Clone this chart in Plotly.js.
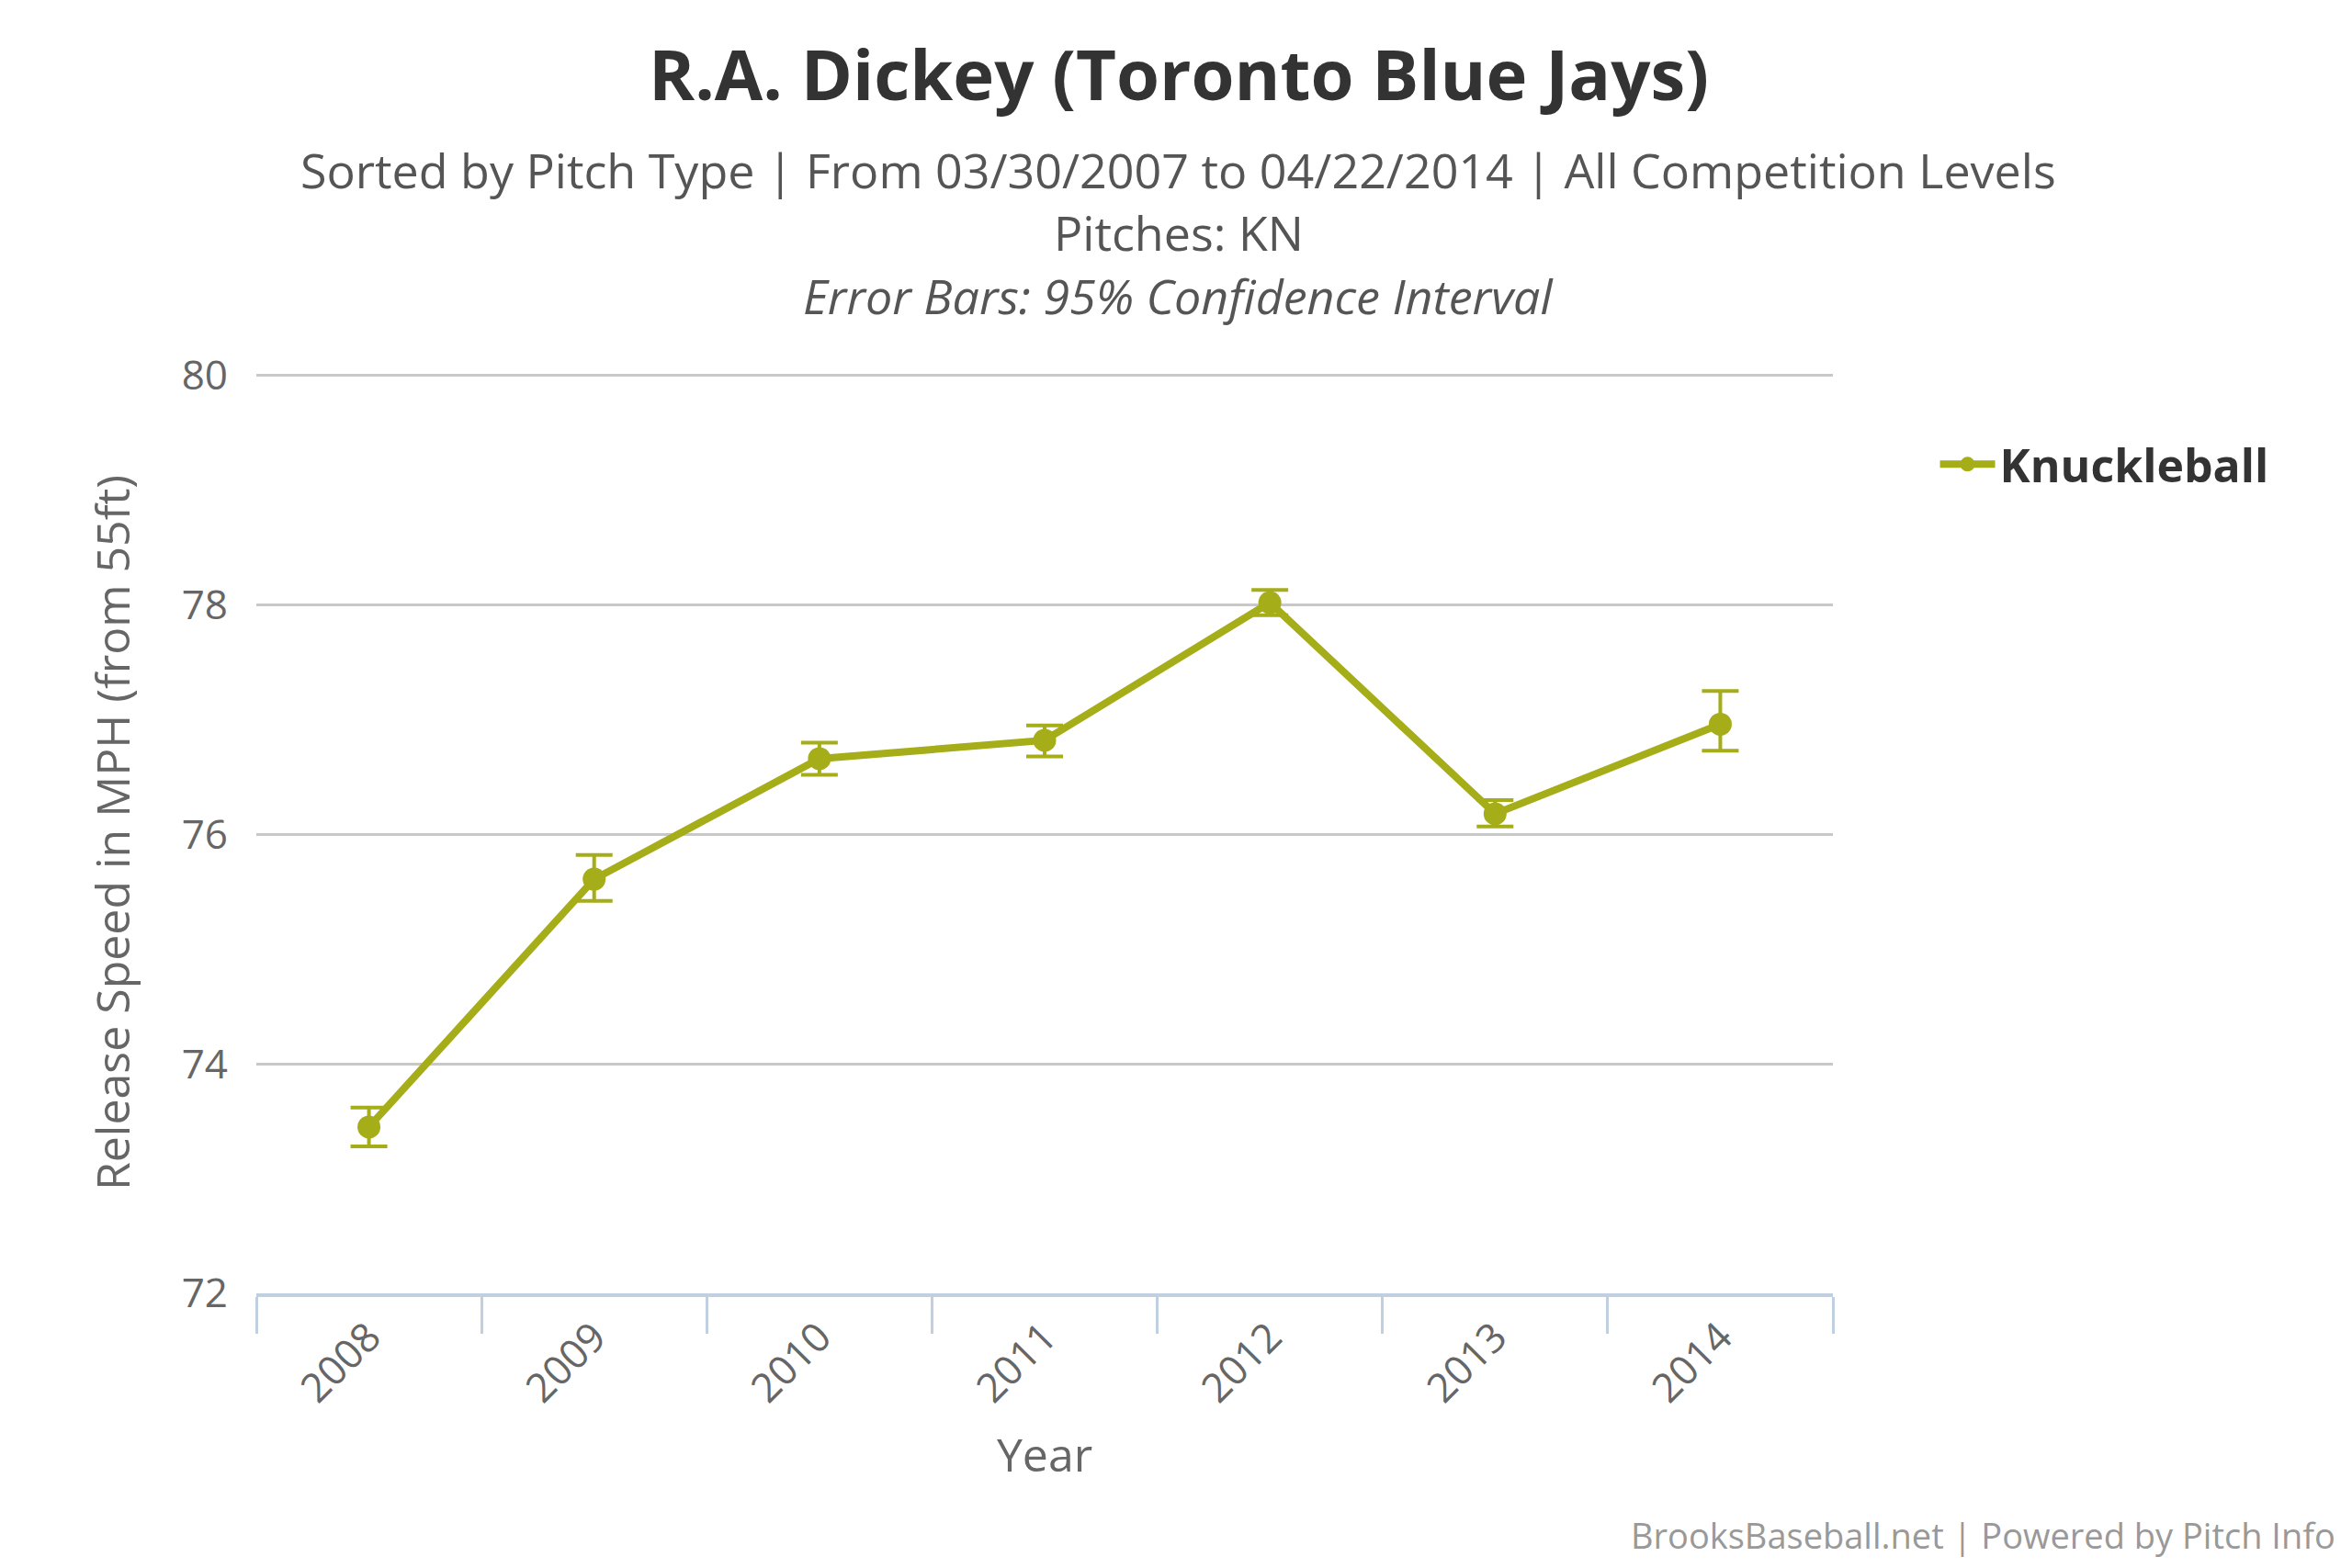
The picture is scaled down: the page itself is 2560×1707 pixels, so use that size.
<!DOCTYPE html>
<html>
<head>
<meta charset="utf-8">
<script src="https://cdn.plot.ly/plotly-3.0.1.min.js"></script>
<style>body{margin:0;background:#fff}</style>
</head>
<body>
<div id="chart" style="width:2560px;height:1707px"></div>
<script>
var years = ['2008', '2009', '2010', '2011', '2012', '2013', '2014']
var speed = [73.45, 75.61, 76.66, 76.82, 78.02, 76.18, 76.96]
var errHigh = [0.17, 0.21, 0.14, 0.13, 0.11, 0.12, 0.29]
var errLow = [0.17, 0.19, 0.14, 0.14, 0.11, 0.11, 0.23]

var titleLines = [
    {text: '<b>R.A. Dickey (Toronto Blue Jays)</b>', y: 1.325, size: 76, color: '#333'},
    {text: 'Sorted by Pitch Type | From 03/30/2007 to 04/22/2014 | All Competition Levels', y: 1.220, size: 52, color: '#555'},
    {text: 'Pitches: KN', y: 1.152, size: 52, color: '#555'},
    {text: '<i>Error Bars: 95% Confidence Interval</i>', y: 1.083, size: 52, color: '#555'}
]

var color = '#a5ad18'
var font = '"Open Sans", "DejaVu Sans", sans-serif'

var trace = {
    x: years,
    y: speed,
    name: 'Knuckleball',
    type: 'scatter',
    mode: 'lines+markers',
    line: {color: color, width: 8},
    marker: {color: color, size: 25},
    error_y: {
        type: 'data',
        symmetric: false,
        array: errHigh,
        arrayminus: errLow,
        color: color,
        thickness: 4,
        width: 20
    }
}

var annotations = titleLines.map(function(t) {
    return {
        text: t.text, xref: 'paper', yref: 'paper',
        x: 0.585, y: t.y, xanchor: 'center', yanchor: 'middle',
        showarrow: false, font: {size: t.size, color: t.color, family: font}
    }
})
annotations.push({
    text: 'BrooksBaseball.net | Powered by Pitch Info',
    xref: 'paper', yref: 'paper',
    x: 1.32, y: -0.29, xanchor: 'right', yanchor: 'bottom',
    showarrow: false,
    font: {size: 38, color: '#999'}
})

var layout = {
    width: 2560,
    height: 1707,
    margin: {l: 279, r: 565, t: 405, b: 299},
    paper_bgcolor: '#fff',
    plot_bgcolor: '#fff',
    font: {family: font, color: '#555'},
    xaxis: {
        type: 'category',
        range: [-0.5, 6.5],
        tickson: 'boundaries',
        ticks: 'outside',
        ticklen: 40,
        tickwidth: 3,
        tickcolor: '#c0d0e0',
        showline: true,
        linecolor: '#c0d0e0',
        linewidth: 4,
        showgrid: false,
        tickangle: -45,
        tickfont: {size: 44, color: '#666'},
        title: {text: 'Year', font: {size: 50, color: '#666'}, standoff: 30}
    },
    yaxis: {
        range: [72, 80.03],
        dtick: 2,
        gridcolor: '#c8c8c8',
        gridwidth: 3,
        zeroline: false,
        ticks: '',
        tickfont: {size: 44, color: '#666'},
        ticklabelstandoff: 30,
        title: {text: 'Release Speed in MPH (from 55ft)', font: {size: 50, color: '#666'}, standoff: 40}
    },
    showlegend: true,
    legend: {
        x: 1.065, xanchor: 'left', y: 0.9, yanchor: 'middle',
        font: {size: 50, color: '#333', family: font, weight: 'bold'},
        itemwidth: 60
    },
    annotations: annotations
}

Plotly.newPlot('chart', [trace], layout, {displayModeBar: false})
</script>
</body>
</html>
